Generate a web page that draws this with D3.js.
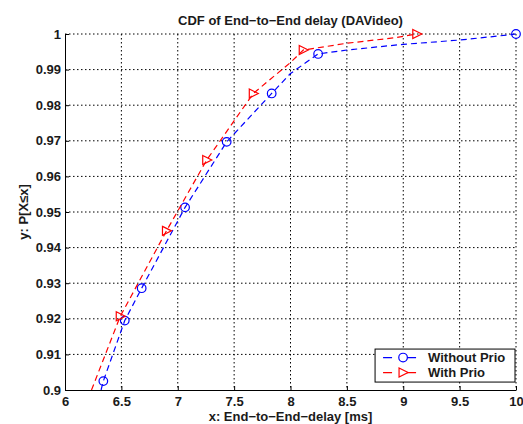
<!DOCTYPE html>
<html>
<head>
<meta charset="utf-8">
<script src="https://cdn.jsdelivr.net/npm/d3@7"></script>
<style>
	body { margin: 0; background: #fff; }
	svg { display: block; font-family: 'Liberation Sans', Arial, sans-serif; }
	.tick text { fill: #1a1a1a; font-size: 13px; font-weight: bold; }
</style>
</head>
<body>
<svg id="chart" width="523" height="424"></svg>
<script>
// delay [ms] / cumulative probability
const withoutX = [6.32, 6.34, 6.53, 6.68, 7.065, 7.434, 7.833, 8.0, 8.245, 8.5, 9.0, 9.5, 9.83, 10];
const withoutY = [0.9, 0.9025, 0.9195, 0.9286, 0.9513, 0.9697, 0.9833, 0.9889, 0.9944, 0.9955, 0.9971, 0.9983, 0.9994, 1.0];
const withoutMarks = [6.34, 6.53, 6.68, 7.065, 7.434, 7.833, 8.245, 10];

const withX = [6.235, 6.49, 6.9, 7.257, 7.67, 8.0, 8.113, 8.5, 8.94, 9.12];
const withY = [0.9, 0.9207, 0.9447, 0.9646, 0.9833, 0.992, 0.9955, 0.9974, 0.999, 1.0];
const withMarks = [6.49, 6.9, 7.257, 7.67, 8.113, 9.12];

const xTicks = [6, 6.5, 7, 7.5, 8, 8.5, 9, 9.5, 10];
const yTicks = [0.9, 0.91, 0.92, 0.93, 0.94, 0.95, 0.96, 0.97, 0.98, 0.99, 1];

const margin = { top: 34, right: 7, bottom: 34, left: 65, };
const width = 523 - margin.left - margin.right;
const height = 424 - margin.top - margin.bottom;

const x = d3.scaleLinear().domain([6, 10]).range([0, width]);
const y = d3.scaleLinear().domain([0.9, 1]).range([height, 0]);

const svg = d3.select('#chart');
const g = svg.append('g')
	.attr('transform', `translate(${ margin.left }, ${ margin.top })`);

g.append('clipPath').attr('id', 'clip')
	.append('rect').attr('x', -6).attr('y', -6).attr('width', width + 12).attr('height', height + 6);

// grid
g.append('g')
	.selectAll('line')
	.data(xTicks.slice(1))
	.join('line')
		.attr('x1', (d) => x(d)).attr('x2', (d) => x(d))
		.attr('y1', 0).attr('y2', height)
		.attr('stroke', '#000').attr('stroke-dasharray', '1.5,2.5');
g.append('g')
	.selectAll('line')
	.data(yTicks.slice(1))
	.join('line')
		.attr('y1', (d) => y(d)).attr('y2', (d) => y(d))
		.attr('x1', 0).attr('x2', width)
		.attr('stroke', '#000').attr('stroke-dasharray', '1.5,2.5');

// axes
g.append('g')
	.attr('transform', `translate(0, ${ height })`)
	.call(d3.axisBottom(x).tickValues(xTicks).tickFormat(d3.format('')).tickSizeInner(-4).tickSizeOuter(0).tickPadding(7))
	.call((a) => a.select('.domain').attr('stroke', '#000'))
	.call((a) => a.selectAll('.tick line').attr('stroke', '#000'));
g.append('g')
	.call(d3.axisLeft(y).tickValues(yTicks).tickFormat(d3.format('')).tickSizeInner(-4).tickSizeOuter(0).tickPadding(4))
	.call((a) => a.select('.domain').attr('stroke', '#000'))
	.call((a) => a.selectAll('.tick line').attr('stroke', '#000'));

const line = d3.line()
	.x((d) => x(d[0]))
	.y((d) => y(d[1]));

const series = [
	{ xs: withoutX, ys: withoutY, marks: withoutMarks, color: '#0000ff', shape: 'circle', },
	{ xs: withX, ys: withY, marks: withMarks, color: '#ff0000', shape: 'triangle', },
];

const tri = 'M-4,-4.5L5,0L-4,4.5Z';

const plot = g.append('g').attr('clip-path', 'url(#clip)');
series.forEach((s) => {
	const pts = s.xs.map((v, i) => [v, s.ys[i]]);
	plot.append('path')
		.datum(pts)
		.attr('d', line)
		.attr('fill', 'none')
		.attr('stroke', s.color)
		.attr('stroke-width', 1.2)
		.attr('stroke-dasharray', '6,4');
	const markPts = pts.filter((p) => s.marks.includes(p[0]));
	if (s.shape === 'circle') {
		plot.append('g').selectAll('circle')
			.data(markPts)
			.join('circle')
				.attr('cx', (d) => x(d[0])).attr('cy', (d) => y(d[1])).attr('r', 4.3)
				.attr('fill', 'none').attr('stroke', s.color).attr('stroke-width', 1.2);
	} else {
		plot.append('g').selectAll('path')
			.data(markPts)
			.join('path')
				.attr('transform', (d) => `translate(${ x(d[0]) }, ${ y(d[1]) })`)
				.attr('d', tri)
				.attr('fill', 'none').attr('stroke', s.color).attr('stroke-width', 1.2);
	}
});

// title and labels
const label = (sel) => sel.attr('text-anchor', 'middle').attr('font-size', 13).attr('font-weight', 'bold').attr('fill', '#1a1a1a');
svg.append('text')
	.attr('x', margin.left + width / 2).attr('y', 25)
	.call(label)
	.text('CDF of End\u2212to\u2212End delay (DAVideo)');
svg.append('text')
	.attr('x', margin.left + width / 2).attr('y', 421)
	.call(label)
	.text('x: End\u2212to\u2212End\u2212delay [ms]');
svg.append('text')
	.attr('transform', `translate(28, ${ margin.top + height / 2 }) rotate(-90)`)
	.call(label)
	.text('y: P[X\u2264x]');

// legend
const legend = g.append('g').attr('transform', `translate(${ x(8.75) }, ${ y(0.9115) })`);
legend.append('rect')
	.attr('width', x(10) - x(8.75) - 1).attr('height', 33)
	.attr('fill', '#fff').attr('stroke', '#000');
series.forEach((s, i) => {
	const row = legend.append('g').attr('transform', `translate(0, ${ 8.5 + i * 15 })`);
	row.append('line').attr('x1', 8).attr('x2', 50).attr('stroke', s.color).attr('stroke-width', 1.2).attr('stroke-dasharray', '9,15');
	if (s.shape === 'circle') {
		row.append('circle').attr('cx', 28).attr('r', 4.3).attr('fill', 'none').attr('stroke', s.color).attr('stroke-width', 1.2);
	} else {
		row.append('path').attr('transform', 'translate(28, 0)').attr('d', tri).attr('fill', 'none').attr('stroke', s.color).attr('stroke-width', 1.2);
	}
	row.append('line').attr('x1', 28).attr('x2', 28).attr('stroke', s.color);
	row.append('text').attr('x', 53).attr('dy', '0.35em').attr('font-size', 13).attr('font-weight', 'bold').attr('fill', '#1a1a1a')
		.text(i === 0 ? 'Without Prio' : 'With Prio');
});
</script>
</body>
</html>
